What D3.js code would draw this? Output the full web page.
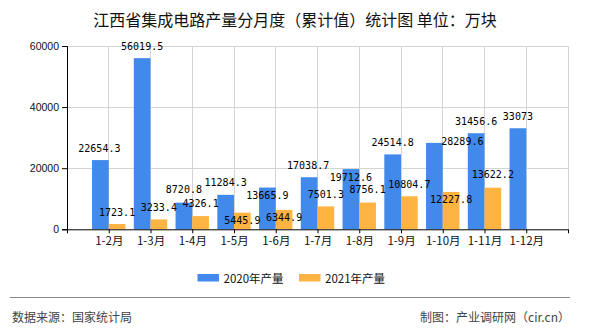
<!DOCTYPE html>
<html><head><meta charset="utf-8">
<script src="https://cdn.jsdelivr.net/npm/d3@7"></script>
<style>
html,body{margin:0;padding:0;background:#fff;}
svg{display:block;}
</style></head>
<body>
<svg id="c" width="590" height="330"></svg>
<script>
const categories = ["1-2月","1-3月","1-4月","1-5月","1-6月","1-7月","1-8月","1-9月","1-10月","1-11月","1-12月"];
const values2020 = [22654.3,56019.5,8720.8,11284.3,13665.9,17038.7,19712.6,24514.8,28289.6,31456.6,33073];
const values2021 = [1723.1,3233.4,4326.1,5445.9,6344.9,7501.3,8756.1,10804.7,12227.8,13622.2,null];
const seriesNames = ["2020年产量","2021年产量"];
const yTicks = [0,20000,40000,60000];
// label nudges (px, relative to bar top / bar centre)
const label2020Dy = [-12,-12,-13,-12,8,-12,8,-12,-1,-12,-12];
const label2020Dx = [-1,0,0,0,0,-1,0,0,28,0,0];
const label2021Dy = [-12,-12,-13,8,8,-12,-13,-12,8,-13,0];

const colors = ["#4189eb","#fdb443"];
const svg = d3.select("#c");
const L = 67, R = 568, T = 46, B = 229.3;

const x = d3.scaleLinear().domain([0, categories.length + 1]).range([L, R]);
const y = d3.scaleLinear().domain([0, 60000]).range([B, T]);
const step = x(1) - x(0);
const bw = step * 0.4;

// title
svg.append("text").attr("x", 295).attr("y", 18.5)
  .attr("text-anchor","middle").attr("dominant-baseline","central")
  .style("font-family","'Noto Sans CJK SC'").style("font-size","16px").style("fill","#111")
  .text("江西省集成电路产量分月度（累计值）统计图 单位：万块");

// grid
const grid = svg.append("g");
grid.selectAll("line.h").data(yTicks.filter(d=>d>0)).join("line")
  .attr("x1", L).attr("x2", R).attr("y1", d=>y(d)).attr("y2", d=>y(d))
  .attr("stroke","#d4d4d4").attr("stroke-width",1).attr("shape-rendering","crispEdges");
grid.selectAll("line.v").data(d3.range(1, categories.length + 2)).join("line")
  .attr("x1", d=>x(d)).attr("x2", d=>x(d)).attr("y1", T).attr("y2", B)
  .attr("stroke","#d4d4d4").attr("stroke-width",1).attr("shape-rendering","crispEdges");

// bars
const gb = svg.append("g");
gb.selectAll("rect.a").data(values2020).join("rect")
  .attr("x", (d,i)=>x(i+1)-bw).attr("width", bw)
  .attr("y", d=>y(d)).attr("height", d=>B-y(d)).attr("fill", colors[0]);
gb.selectAll("rect.b").data(values2021.map((v,i)=>({v,i})).filter(d=>d.v!=null)).join("rect")
  .attr("x", d=>x(d.i+1)).attr("width", bw)
  .attr("y", d=>y(d.v)).attr("height", d=>B-y(d.v)).attr("fill", colors[1]);

// axes
const yAxis = d3.axisLeft(y).tickValues(yTicks).tickSize(5).tickPadding(3).tickFormat(d3.format("d"));
const ga = svg.append("g").attr("transform", `translate(${L},0)`).call(yAxis);
ga.select(".domain").attr("stroke","#000");
ga.selectAll(".tick line").attr("stroke","#000");
ga.selectAll("text").style("font-family","'Liberation Sans',Arial").style("font-size","10.5px").style("fill","#111");

const xAxis = d3.axisBottom(x).tickValues(d3.range(0, categories.length + 2)).tickSize(4).tickPadding(4)
  .tickFormat(d => (d>=1 && d<=categories.length) ? categories[d-1] : "");
const gx = svg.append("g").attr("transform", `translate(0,${B})`).call(xAxis);
gx.select(".domain").attr("stroke","#000").attr("d", `M${L},0.5H${R}`);
gx.selectAll(".tick line").attr("stroke","#000");
gx.selectAll("text").style("font-family","'Noto Sans CJK SC'").style("font-size","11.5px").style("fill","#111");

// data labels
const lab = svg.append("g").style("font-family","'DejaVu Sans Mono','Liberation Mono',monospace")
  .style("font-size","10px").style("fill","#000");
lab.selectAll("text.a").data(values2020).join("text")
  .attr("x", (d,i)=>x(i+1)-bw/2 + label2020Dx[i])
  .attr("y", (d,i)=>y(d) + label2020Dy[i])
  .attr("text-anchor","middle").attr("dominant-baseline","central")
  .text(d=>String(d));
lab.selectAll("text.b").data(values2021.map((v,i)=>({v,i})).filter(d=>d.v!=null)).join("text")
  .attr("x", d=>x(d.i+1)+bw/2)
  .attr("y", d=>y(d.v) + label2021Dy[d.i])
  .attr("text-anchor","middle").attr("dominant-baseline","central")
  .text(d=>String(d.v));

// legend
const lg = svg.append("g");
const legendX = [197.5, 299];
seriesNames.forEach((n,i)=>{
  lg.append("rect").attr("x", legendX[i]).attr("y", 274).attr("width", 21.5).attr("height", 7.5).attr("fill", colors[i]);
  lg.append("text").attr("x", legendX[i]+26).attr("y", 277.5).attr("dominant-baseline","central")
    .style("font-family","'Noto Sans CJK SC'").style("font-size","11.5px").style("fill","#111").text(n);
});

// footer
svg.append("line").attr("x1",10).attr("x2",570).attr("y1",297.5).attr("y2",297.5)
  .attr("stroke","#888").attr("stroke-width",1.2);
svg.append("text").attr("x",12).attr("y",316).attr("dominant-baseline","central")
  .style("font-family","'Noto Sans CJK SC'").style("font-size","12px").style("fill","#444")
  .text("数据来源：国家统计局");
svg.append("text").attr("x",570).attr("y",316).attr("text-anchor","end").attr("dominant-baseline","central")
  .style("font-family","'Noto Sans CJK SC'").style("font-size","12px").style("fill","#444")
  .text("制图：产业调研网（cir.cn）");
</script>
</body></html>
